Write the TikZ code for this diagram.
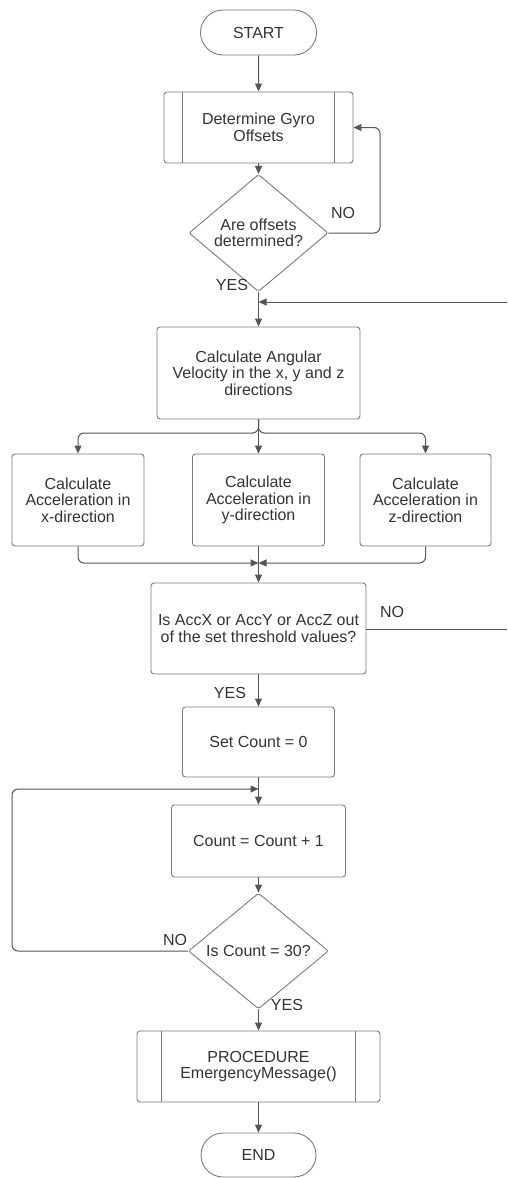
\documentclass[tikz,border=0pt]{standalone}
\usepackage{fontspec}
\setmainfont{Liberation Sans}
\usetikzlibrary{shapes.geometric,shapes.misc,arrows.meta}
\definecolor{linec}{HTML}{555555}
\definecolor{boxc}{HTML}{7A7A7A}
\definecolor{txtc}{HTML}{333333}
\begin{document}
\begin{tikzpicture}[x=1pt,y=-1pt,
  every node/.style={font=\fontsize{16}{16.5}\selectfont, text=txtc, align=center},
  box/.style={draw=boxc, line width=0.9pt, rounded corners=3pt, inner sep=0pt},
  term/.style={draw=boxc, line width=0.9pt, rounded rectangle, inner sep=0pt},
  dec/.style={draw=boxc, line width=0.9pt, diamond, rounded corners=2pt, inner sep=0pt},
  arr/.style={draw=linec, line width=1pt, -{Triangle[length=8pt,width=7pt]}},
  ln/.style={draw=linec, line width=1pt},
  lbl/.style={inner sep=0pt}]
\useasboundingbox (0,0) rectangle (507,1178);

% nodes
\node[term, minimum width=116pt, minimum height=45pt] (start) at (258.5,32.5) {START};
\node[box, minimum width=189pt, minimum height=71pt] (gyro) at (258.5,127.5) {Determine Gyro\\Offsets};
\draw[boxc, line width=0.9pt] ([xshift=19pt]gyro.north west) -- ([xshift=19pt]gyro.south west);
\draw[boxc, line width=0.9pt] ([xshift=-19pt]gyro.north east) -- ([xshift=-19pt]gyro.south east);
\node[dec, minimum width=139pt, minimum height=90pt] (d1) at (258.5,233) {Are offsets\\determined?};
\node[box, minimum width=203pt, minimum height=92pt] (ang) at (258.5,373) {Calculate Angular\\Velocity in the x, y and z\\directions};
\node[box, minimum width=132pt, minimum height=92pt] (ax) at (78,500) {Calculate\\Acceleration in\\x-direction};
\node[box, minimum width=132pt, minimum height=92pt] (ay) at (258.5,500) {Calculate\\Acceleration in\\y-direction};
\node[box, minimum width=131pt, minimum height=92pt] (az) at (425.5,500) {Calculate\\Acceleration in\\z-direction};
\node[box, minimum width=215pt, minimum height=91pt] (thr) at (258.5,628.5) {Is AccX or AccY or AccZ out\\of the set threshold values?};
\node[box, minimum width=152pt, minimum height=70pt] (setc) at (258.5,742) {Set Count = 0};
\node[box, minimum width=174pt, minimum height=72pt] (cnt) at (258.5,841) {Count = Count + 1};
\node[dec, minimum width=140pt, minimum height=90pt] (d2) at (258.5,951) {Is Count = 30?};
\node[box, minimum width=243pt, minimum height=71pt] (proc) at (258.5,1066.5) {PROCEDURE\\EmergencyMessage()};
\draw[boxc, line width=0.9pt] ([xshift=25pt]proc.north west) -- ([xshift=25pt]proc.south west);
\draw[boxc, line width=0.9pt] ([xshift=-25pt]proc.north east) -- ([xshift=-25pt]proc.south east);
\node[term, minimum width=115pt, minimum height=44pt] (end) at (258.5,1155) {END};

% coordinates
\coordinate (rin) at (507,302);
\coordinate (split) at (258.5,433);
\coordinate (merge) at (258.5,563);
\coordinate (rout) at (507,629);
\coordinate (lloop) at (12,789);

% connectors
\draw[arr] (start) -- (gyro);
\draw[arr] (gyro) -- (d1);
\draw[arr, rounded corners=6pt] (d1.east) -- (380,233) -- (380,127.5) -- (gyro.east);
\node[lbl] (no1) at (343,213) {NO};
\draw[arr] (d1.south) -- (ang.north);
\node[lbl] (yes1) at (232,285) {YES};
\draw[arr] (rin) -- (d1.south |- rin);
\draw[arr] (ang.south) -- (ay.north);
\draw[arr, rounded corners=6pt] (ang.south) -- (split) -| (ax.north);
\draw[arr, rounded corners=6pt] (ang.south) -- (split) -| (az.north);
\draw[arr, rounded corners=6pt] (ax.south) |- (merge);
\draw[arr, rounded corners=6pt] (az.south) |- (merge);
\draw[arr] (ay.south) -- (thr.north);
\draw[ln] (thr.east |- rout) -- (rout);
\node[lbl] (no2) at (392,612) {NO};
\draw[arr] (thr.south) -- (setc.north);
\node[lbl] (yes2) at (230,693) {YES};
\draw[arr] (setc.south) -- (cnt.north);
\draw[arr] (cnt.south) -- (d2.north);
\draw[arr, rounded corners=6pt] (d2.west) -| (lloop) -- (setc.south |- lloop);
\node[lbl] (no3) at (175,940) {NO};
\draw[arr] (d2.south) -- (proc.north);
\node[lbl] (yes3) at (287,1005) {YES};
\draw[arr] (proc.south) -- (end.north);
\end{tikzpicture}
\end{document}
